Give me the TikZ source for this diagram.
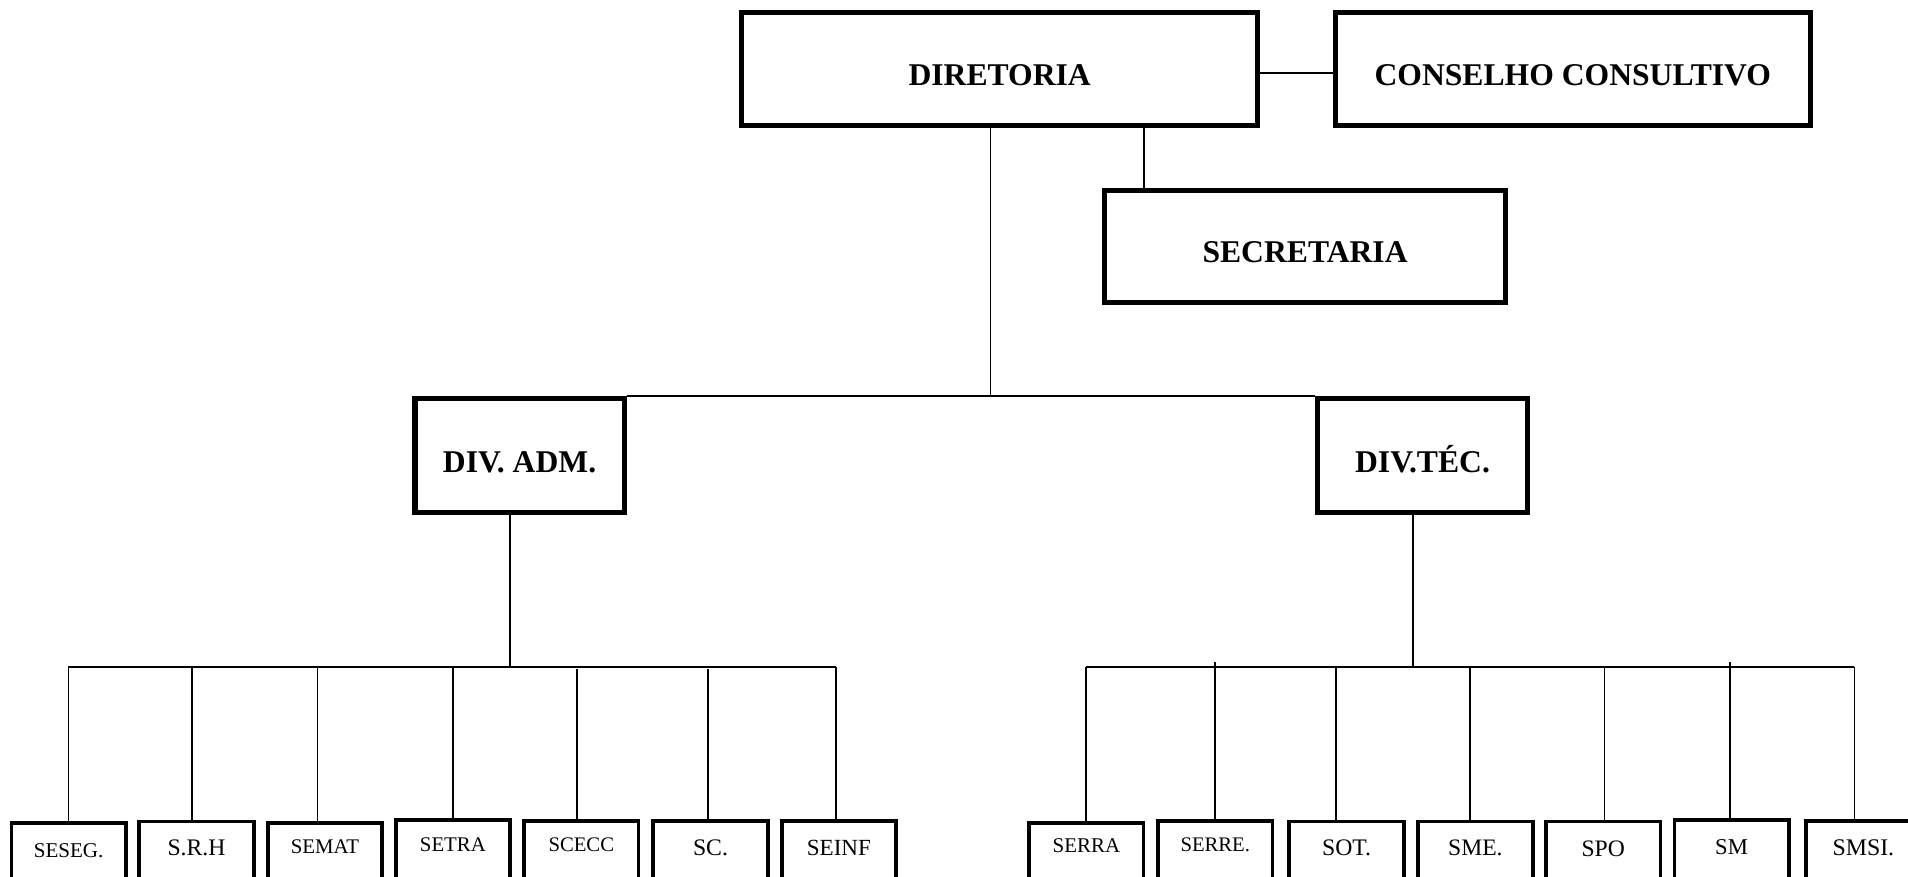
\documentclass[tikz,border=0pt]{standalone}
\usepackage{fontspec}
\setmainfont{Liberation Serif}
\begin{document}
\begin{tikzpicture}[x=1pt,y=-1pt,
  bigbox/.style={draw, line width=4.2pt, inner sep=0pt,
    font=\fontsize{26}{26}\selectfont\bfseries, text height=27pt, text depth=0pt},
  subbox/.style n args={3}{draw, line width=3.1pt, anchor=north, inner sep=0pt,
    minimum width=94pt, text height=#1, text depth=90pt,
    font=\fontsize{#2}{#2}\selectfont, xshift=#3},
  conn/.style={line width=1.45pt}]
\useasboundingbox (0,0) rectangle (1568,720);
\clip (0,0) rectangle (1568,720);

% top level
\node[bigbox, minimum width=424pt, minimum height=93pt] (dir) at (821.5,56.5) {DIRETORIA};
\node[bigbox, minimum width=390pt, minimum height=93pt] (cons) at (1292.5,56.5) {CONSELHO CONSULTIVO};
\node[bigbox, minimum width=329pt, minimum height=92pt] (sec) at (1072.5,202.5) {SECRETARIA};
\node[bigbox, minimum width=172pt, minimum height=94pt] (adm) at (427,374.5) {DIV. ADM.};
\node[bigbox, minimum width=172pt, minimum height=94pt] (tec) at (1169,374.5) {DIV.TÉC.};

\draw[conn] ([yshift=-3.5pt]dir.east) -- ([yshift=-3.5pt]cons.west);
\coordinate (cs) at (940,0);
\draw[conn] (cs |- dir.south) -- (cs |- sec.north);
\coordinate (cm) at (814,0);
\draw[conn] (cm |- dir.south) -- (cm |- adm.north);
\draw[conn] (adm.north east) -- (tec.north west);

% bottom boxes, left
\node[subbox={27.8pt}{17.3}{0pt}] (seseg) at (56.4,675) {SESEG.};
\node[subbox={27.9pt}{19.5}{0pt}] (srh)   at (161.5,673.5) {S.R.H};
\node[subbox={25.5pt}{17.1}{0pt}] (semat) at (267,674.5) {SEMAT};
\node[subbox={25.5pt}{17.1}{0pt}] (setra) at (372.2,672.5) {SETRA};
\node[subbox={25.2pt}{17}{0pt}]   (scecc) at (477.7,673) {SCECC};
\node[subbox={28.4pt}{19.5}{0pt}] (sc)    at (583.9,673) {SC.};
\node[subbox={28.9pt}{19}{0pt}]   (seinf) at (689.4,673) {SEINF};

% bottom boxes, right
\node[subbox={24.2pt}{17.2}{0pt}] (serra) at (892.8,675) {SERRA};
\node[subbox={24.9pt}{17}{0pt}]   (serre) at (998.7,673) {SERRE.};
\node[subbox={27.9pt}{19.5}{0pt}] (sot)   at (1106.6,673.5) {SOT.};
\node[subbox={27.9pt}{19.4}{0pt}] (sme)   at (1212.5,673.5) {SME.};
\node[subbox={28.5pt}{19.4}{0pt}] (spo)   at (1317.5,673.5) {SPO};
\node[subbox={28.2pt}{18.6}{0pt}] (sm)    at (1423,672.5) {SM};
\node[subbox={28.4pt}{19.6}{0pt}] (smsi)  at (1531.3,673) {SMSI.};

% left branch
\coordinate (lb) at (419,548);
\draw[conn] (lb |- adm.south) -- (lb);
\coordinate (l1) at (56.2,548);
\coordinate (l2) at (157.5,548);
\coordinate (l3) at (261,548);
\coordinate (l4) at (372,548);
\coordinate (l5) at (474,550);
\coordinate (l6) at (581.7,550);
\coordinate (l7) at (687.2,548);
\draw[conn] (l1) -- (l7);
\draw[conn] (l1) -- (l1 |- seseg.north);
\draw[conn] (l2) -- (l2 |- srh.north);
\draw[conn] (l3) -- (l3 |- semat.north);
\draw[conn] (l4) -- (l4 |- setra.north);
\draw[conn] (l5) -- (l5 |- scecc.north);
\draw[conn] (l6) -- (l6 |- sc.north);
\draw[conn] (l7) -- (l7 |- seinf.north);

% right branch
\coordinate (rb) at (1161,548);
\draw[conn] (rb |- tec.south) -- (rb);
\coordinate (r1) at (892.7,548);
\coordinate (r2) at (998.7,544.4);
\coordinate (r3) at (1097.9,548);
\coordinate (r4) at (1208.3,548);
\coordinate (r5) at (1318.5,548);
\coordinate (r6) at (1422,544.4);
\coordinate (r7) at (1524,548);
\draw[conn] (r1) -- (r7);
\draw[conn] (r1) -- (r1 |- serra.north);
\draw[conn] (r2) -- (r2 |- serre.north);
\draw[conn] (r3) -- (r3 |- sot.north);
\draw[conn] (r4) -- (r4 |- sme.north);
\draw[conn] (r5) -- (r5 |- spo.north);
\draw[conn] (r6) -- (r6 |- sm.north);
\draw[conn] (r7) -- (r7 |- smsi.north);
\end{tikzpicture}
\end{document}
